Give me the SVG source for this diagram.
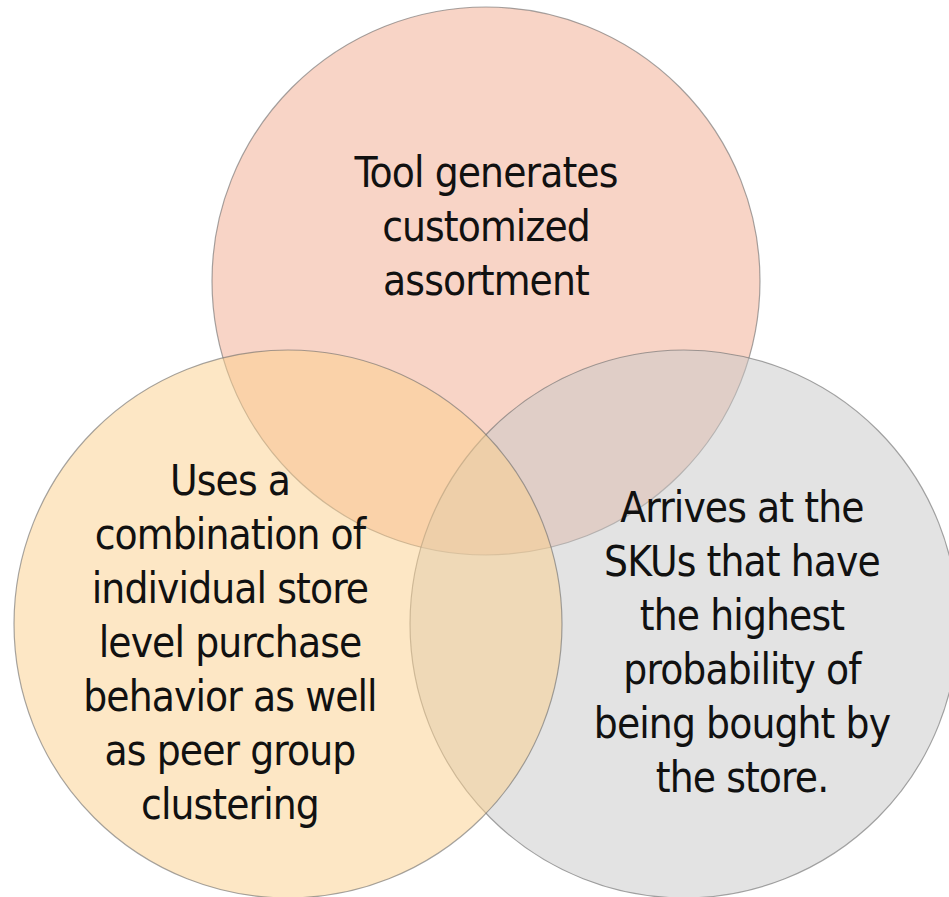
<svg xmlns="http://www.w3.org/2000/svg" width="949" height="897" viewBox="0 0 949 897">
<style>
.c{stroke:#6a6a6a;stroke-opacity:0.6;stroke-width:1.2;fill-opacity:0.5}
.t{font-family:"DejaVu Sans Condensed","Liberation Sans Narrow","Liberation Sans",sans-serif;font-stretch:condensed;font-size:42px;letter-spacing:-0.9px;fill:#111;text-anchor:middle}
</style>
<rect width="949" height="897" fill="#fff"/>
<g id="top">
<circle class="c" cx="486" cy="281" r="274" fill="#F1A98D"/>
</g>
<g id="right">
<circle class="c" cx="684" cy="624" r="274" fill="#C7C7C7"/>
</g>
<g id="left">
<circle class="c" cx="288" cy="624" r="274" fill="#FBCF8B"/>
</g>
<g id="connectors"></g>
<g id="top-text">
<text class="t" x="486" y="187">Tool generates</text>
<text class="t" x="486" y="241">customized</text>
<text class="t" x="486" y="295">assortment</text>
</g>
<g id="left-text">
<text class="t" x="230" y="495">Uses a</text>
<text class="t" x="230" y="549">combination of</text>
<text class="t" x="230" y="603">individual store</text>
<text class="t" x="230" y="657">level purchase</text>
<text class="t" x="230" y="711">behavior as well</text>
<text class="t" x="230" y="765">as peer group</text>
<text class="t" x="230" y="819">clustering</text>
</g>
<g id="right-text">
<text class="t" x="742" y="522">Arrives at the</text>
<text class="t" x="742" y="576">SKUs that have</text>
<text class="t" x="742" y="630">the highest</text>
<text class="t" x="742" y="684">probability of</text>
<text class="t" x="742" y="738">being bought by</text>
<text class="t" x="742" y="792">the store.</text>
</g>
</svg>
